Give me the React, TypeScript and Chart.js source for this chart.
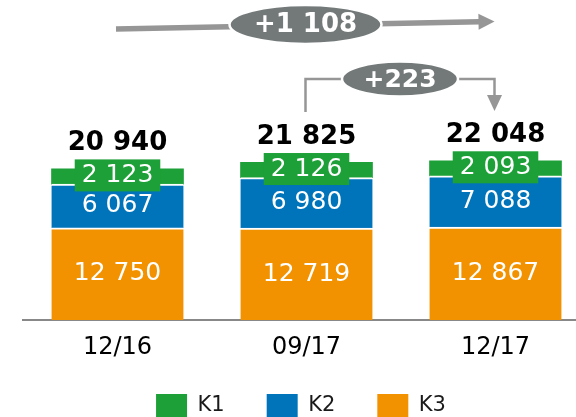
import { useEffect, useRef } from 'react';
import { Chart, registerables } from 'chart.js';

Chart.register(...registerables);

const categories = ['12/16', '09/17', '12/17'];
const k1Values = [2123, 2126, 2093];
const k2Values = [6067, 6980, 7088];
const k3Values = [12750, 12719, 12867];
const seriesLabels = ['K1', 'K2', 'K3'];
const seriesColors = ['#1ca037', '#0074bb', '#f39200'];

const FONT = "'DejaVu Sans', Verdana, sans-serif";
const ELLIPSE = '#737979';
const ARROW = '#969696';
const CANVAS_W = 590;

const fmt = (v: number) => String(v).replace(/\B(?=(\d{3})+(?!\d))/g, ' ');
const totals = categories.map((_, i) => k1Values[i] + k2Values[i] + k3Values[i]);

const labelsPlugin = {
  id: 'segLabels',
  afterDatasetsDraw(chart: any) {
    const ctx = chart.ctx;
    ctx.save();
    ctx.textAlign = 'center';
    ctx.textBaseline = 'middle';
    chart.data.datasets.forEach((ds: any, di: number) => {
      const meta = chart.getDatasetMeta(di);
      const isTop = ds.label === 'K1';
      meta.data.forEach((el: any, i: number) => {
        const { x, y, base } = el.getProps(['x', 'y', 'base'], true);
        const top = isTop ? y : y + 2;
        const cy = (top + base) / 2 - 1;
        const txt = fmt(ds.data[i]);
        ctx.font = `25px ${FONT}`;
        if (isTop) {
          const w = ctx.measureText(txt).width + 14;
          ctx.fillStyle = ds.backgroundColor;
          ctx.fillRect(x - w / 2, cy - 16, w, 32);
        }
        ctx.fillStyle = '#ffffff';
        ctx.fillText(txt, x, cy);
        if (isTop) {
          ctx.font = `bold 26px ${FONT}`;
          ctx.fillStyle = '#000000';
          ctx.fillText(fmt(totals[i]), x, y - 25);
        }
      });
    });
    ctx.restore();
  },
};

function arrowHead(ctx: any, tx: number, ty: number, ang: number, len: number, hw: number) {
  const bx = tx - len * Math.cos(ang);
  const by = ty - len * Math.sin(ang);
  const px = -Math.sin(ang);
  const py = Math.cos(ang);
  ctx.beginPath();
  ctx.moveTo(tx, ty);
  ctx.lineTo(bx + px * hw, by + py * hw);
  ctx.lineTo(bx - px * hw, by - py * hw);
  ctx.closePath();
  ctx.fill();
  return [bx, by];
}

function badge(ctx: any, cx: number, cy: number, rx: number, ry: number, text: string, size: number) {
  ctx.beginPath();
  ctx.ellipse(cx, cy, rx, ry, 0, 0, Math.PI * 2);
  ctx.fillStyle = ELLIPSE;
  ctx.fill();
  ctx.lineWidth = 2.5;
  ctx.strokeStyle = '#ffffff';
  ctx.stroke();
  ctx.fillStyle = '#ffffff';
  ctx.font = `bold ${size}px ${FONT}`;
  ctx.textAlign = 'center';
  ctx.textBaseline = 'middle';
  ctx.fillText(text, cx, cy + 1);
}

const annotPlugin = {
  id: 'annot',
  afterDraw(chart: any) {
    const ctx = chart.ctx;
    const xs = chart.getDatasetMeta(0).data.map((e: any) => e.x);
    const [x0, x1, x2] = xs;
    ctx.save();
    // long arrow 12/16 -> 12/17
    const sx = x0 - 1.5, sy = 29;
    const tx = x2 - 1, ty = 21.5;
    const ang = Math.atan2(ty - sy, tx - sx);
    ctx.fillStyle = ARROW;
    const [bx, by] = arrowHead(ctx, tx, ty, ang, 16, 8);
    ctx.strokeStyle = ARROW;
    ctx.lineWidth = 5.5;
    ctx.beginPath();
    ctx.moveTo(sx, sy);
    ctx.lineTo(bx + 1, by);
    ctx.stroke();
    badge(ctx, x1 - 1, 24.5, 76, 19.5, '+' + fmt(totals[2] - totals[0]), 26);

    // bracket 09/17 -> 12/17
    const lx = x1 - 1, rx = x2 - 1, hy = 79, bot = 112;
    ctx.strokeStyle = ARROW;
    ctx.lineWidth = 2.5;
    ctx.beginPath();
    ctx.moveTo(lx, bot);
    ctx.lineTo(lx, hy);
    ctx.lineTo(rx, hy);
    ctx.lineTo(rx, bot - 15);
    ctx.stroke();
    ctx.fillStyle = ARROW;
    arrowHead(ctx, rx, bot - 1, Math.PI / 2, 16, 7.5);
    badge(ctx, (lx + rx) / 2, 79, 58, 17.5, '+' + fmt(totals[2] - totals[1]), 25);
    ctx.restore();
  },
};

export default function App() {
  const ref = useRef<HTMLCanvasElement | null>(null);

  useEffect(() => {
    if (!ref.current) return;
    Chart.defaults.font.family = FONT;
    const mk = (label: string, values: number[], color: string, border: boolean) => ({
      label,
      data: values,
      backgroundColor: color,
      borderColor: '#ffffff',
      borderWidth: border ? { top: 2, right: 0, bottom: 0, left: 0 } : 0,
      borderSkipped: 'start',
      barThickness: 132,
    });
    const chart = new Chart(ref.current, {
      type: 'bar',
      data: {
        labels: categories,
        datasets: [
          mk(seriesLabels[2], k3Values, seriesColors[2], true),
          mk(seriesLabels[1], k2Values, seriesColors[1], true),
          mk(seriesLabels[0], k1Values, seriesColors[0], false),
        ] as any,
      },
      options: {
        responsive: false,
        animation: false,
        events: [],
        layout: { padding: { left: 12, right: 0, top: 0, bottom: 0 } },
        scales: {
          x: {
            stacked: true,
            grid: { color: 'transparent', drawTicks: false },
            border: { display: true, color: '#888888', width: 2 },
            afterFit: (axis: any) => {
              axis.height = 32;
            },
            ticks: {
              autoSkip: false,
              maxRotation: 0,
              mirror: true,
              padding: -42.5,
              color: '#000000',
              font: { size: 24, family: FONT },
            },
          },
          y: {
            stacked: true,
            display: true,
            min: 0,
            max: 44300,
            ticks: { display: false },
            grid: { display: false },
            border: { display: false },
            afterFit: (axis: any) => {
              axis.width = 11;
            },
          },
        },
        plugins: {
          tooltip: { enabled: false },
          legend: {
            position: 'bottom',
            reverse: true,
            maxHeight: 65,
            labels: {
              boxWidth: 31,
              boxHeight: 24,
              padding: 42,
              color: '#1a1a1a',
              font: { size: 21, family: FONT },
              generateLabels: (c: any) =>
                Chart.defaults.plugins.legend.labels
                  .generateLabels(c)
                  .map((l: any) => ({ ...l, lineWidth: 0, strokeStyle: 'transparent' })),
            },
          },
        },
      } as any,
      plugins: [labelsPlugin, annotPlugin],
    });
    return () => chart.destroy();
  }, []);

  return (
    <div style={{ position: 'absolute', left: 0, top: 0, width: 576, height: 417, overflow: 'hidden', background: '#fff' }}>
      <canvas ref={ref} width={CANVAS_W} height={417} style={{ width: CANVAS_W, height: 417, display: 'block' }} />
    </div>
  );
}
